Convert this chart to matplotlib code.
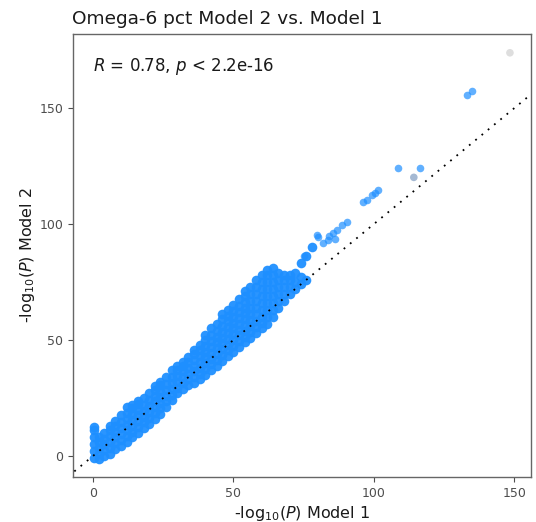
import matplotlib
matplotlib.use("Agg")
import matplotlib.pyplot as plt
import numpy as np

# ---- data (-log10 P, Model 1 vs Model 2) ----
band_x = [0.5]*6 + [2]*5 + [4]*5 + [6]*6 + [8]*6 + [10]*6 + [12]*7 + [14]*7 + [16]*7 + [18]*6 + \
         [20]*6 + [22]*7 + [24]*7 + [26]*6 + [28]*6 + [30]*6 + [32]*6 + [34]*6 + [36]*7 + [38]*7 + \
         [40]*8 + [42]*8 + [44]*8 + [46]*9 + [48]*9 + [50]*9 + [52]*9 + [54]*10 + [56]*9 + [58]*9 + \
         [60]*9 + [62]*9 + [64]*8 + [66]*6 + [68]*5 + [70]*4 + [72]*3 + [74]*3 + [76]*2 + [78]*1
band_y = [-1, 2, 5, 8, 11, 12.5,
          -1.5, 1, 3.5, 6, 8,
          0, 2.5, 5, 7.5, 10,
          1, 3.5, 6, 8.5, 11, 13,
          3, 5.5, 8, 10.5, 13, 15,
          4.5, 7, 9.5, 12, 14.5, 17.5,
          6, 8.5, 11, 13.5, 16, 18.5, 21,
          8, 10.5, 13, 15.5, 18, 20.5, 22,
          10, 12.5, 15, 17.5, 20, 22.5, 23.5,
          12, 14.5, 17, 19.5, 22, 25,
          14, 16.5, 19, 21.5, 24, 27,
          16, 18.5, 21, 23.5, 26, 28.5, 30,
          18, 20.5, 23, 25.5, 28, 30.5, 32,
          21, 23.5, 26, 28.5, 31, 34,
          24, 26.5, 29, 31.5, 34, 37,
          27, 29.5, 32, 34.5, 37, 39,
          29, 31.5, 34, 36.5, 39, 40.5,
          30.5, 33, 35.5, 38, 40.5, 42.5,
          31.5, 34, 36.5, 39, 41.5, 44, 45.5,
          33, 35.5, 38, 40.5, 43, 45.5, 48,
          35, 37.5, 40, 42.5, 45, 47.5, 50, 52,
          37, 39.5, 42, 44.5, 47, 49.5, 52, 55,
          39, 41.5, 44, 46.5, 49, 51.5, 54, 57,
          41, 43.5, 46, 48.5, 51, 53.5, 56, 59, 61,
          43, 45.5, 48, 50.5, 53, 55.5, 58, 60.5, 63,
          45, 47.5, 50, 52.5, 55, 57.5, 60, 62.5, 65,
          47, 49.5, 52, 54.5, 57, 59.5, 62, 64.5, 67.5,
          49, 51.5, 54, 56.5, 59, 61.5, 64, 66.5, 69, 71,
          51, 53.5, 56, 58.5, 61, 64, 67, 70, 73,
          53, 55.5, 58, 61, 64, 67, 70, 73, 76,
          55, 57.5, 60, 63, 66, 69, 72, 75, 78,
          57, 60, 63, 66, 69, 72, 75, 78, 80,
          60, 63, 66, 69, 72, 75, 78, 81,
          64, 67, 70, 73, 76, 79,
          67, 70, 73, 76, 78,
          70, 73, 76, 78,
          72, 75, 79,
          74, 77, 83,
          76, 86,
          90]

sparse_x = [79.6, 75, 80, 82, 83.5, 85.5, 87, 88.5, 90.3, 86, 84,
            96.2, 97.5, 99.2, 100.5, 101.5, 108.7, 116.4, 133, 134.8]
sparse_y = [95.3, 86, 94.5, 91.7, 93, 96, 97.5, 99.5, 101, 93.5, 95,
            109.6, 110.5, 112.5, 113.5, 114.7, 124, 124.3, 155.6, 157.5]

faint_x = [114.2, 148.4]
faint_y = [120.1, 173.8]

title = "Omega-6 pct Model 2 vs. Model 1"
stat_label = r"$R$ = 0.78, $p$ < 2.2e-16"
xticks = [0, 50, 100, 150]
yticks = [0, 50, 100, 150]

fig = plt.figure(figsize=(5.36, 5.22), dpi=100)
ax = fig.add_axes([73/536, 1-477/522, (531-73)/536, (477-34)/522])

blue = "#1E8FFF"
ax.scatter(band_x, band_y, s=48, color=blue, alpha=0.95, linewidths=0, zorder=2)
ax.scatter(sparse_x, sparse_y, s=30, color=blue, alpha=0.7, linewidths=0, zorder=2)
ax.scatter(faint_x, faint_y, s=30, color=["#8fa8c8", "#d6d6d6"], alpha=0.8, linewidths=0, zorder=2)

ax.plot([-20, 200], [-20, 200], color="black", lw=1.3, linestyle=(0, (1, 3.5)), zorder=3)

ax.set_xlim(-7.1, 155.9)
ax.set_ylim(-9.05, 181.9)
ax.set_xticks(xticks)
ax.set_yticks(yticks)
ax.tick_params(colors="#4d4d4d", labelsize=9, length=3.5, width=0.8)
for sp in ax.spines.values():
    sp.set_color("#666666")
    sp.set_linewidth(1.0)

ax.set_xlabel(r"-log$_{10}$($P$) Model 1", fontsize=11.5, color="#1a1a1a", labelpad=3)
ax.set_ylabel(r"-log$_{10}$($P$) Model 2", fontsize=11.5, color="#1a1a1a", labelpad=2)
ax.set_title(title, fontsize=13.3, loc="left", x=-0.003, pad=7, color="#1a1a1a")
ax.text(0, 167.7, stat_label, fontsize=12, va="center", ha="left", color="#1a1a1a")

fig.savefig("out.png", dpi=100)
